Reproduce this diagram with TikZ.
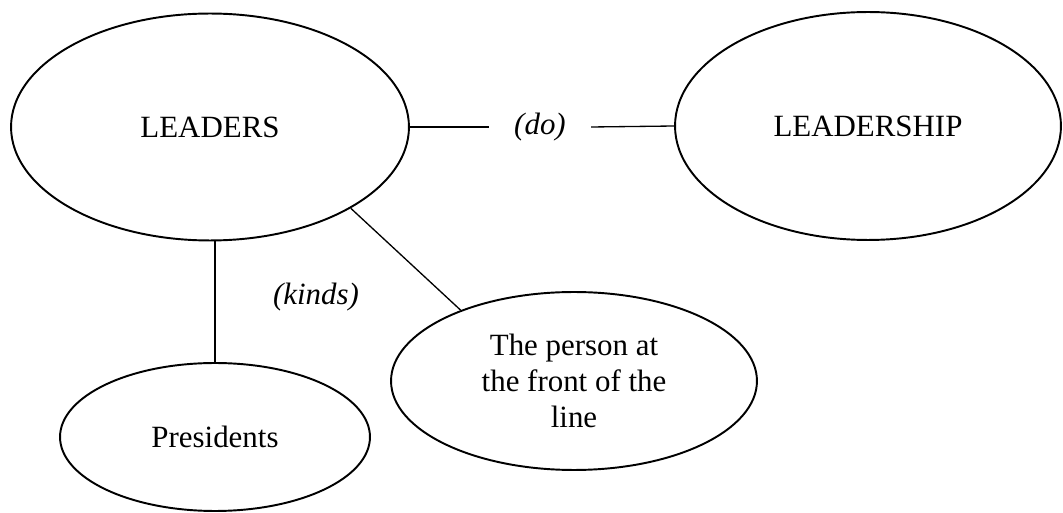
\documentclass[tikz,border=0pt]{standalone}
\usepackage{fontspec}
\setmainfont{Liberation Serif}
\usetikzlibrary{shapes.geometric}

\begin{document}
\begin{tikzpicture}[x=0.02cm, y=-0.02cm,
    bubble/.style={draw, ellipse, line width=1.1pt, inner sep=0pt, align=center},
    lbl/.style={font=\itshape, inner xsep=0.5cm},
    link/.style={line width=0.75pt}]
        \fontsize{17.6}{20.6}\selectfont
        \useasboundingbox (0, 0) rectangle (1063, 513);

        \node[bubble, minimum width=7.96cm, minimum height=4.54cm] (leaders) at (210, 127) {LEADERS};
        \node[bubble, minimum width=7.72cm, minimum height=4.56cm] (leadership) at (868, 126) {LEADERSHIP};
        \node[bubble, minimum width=6.2cm, minimum height=2.96cm] (presidents) at (215, 437) {Presidents};
        \node[bubble, minimum width=7.32cm, minimum height=3.56cm] (person) at (574, 381) {The person at\\the front of the\\line};

        \node[lbl] (do) at (540, 127) {(do)};
        \node[font=\itshape] (kinds) at (316, 297) {(kinds)};

        \draw[link] (leaders.east) -- (do.west);
        \draw[link] (do.east) -- (leadership.west);
        \draw[link] (presidents.north) -- (presidents.north |- leaders.south);
        \draw[link] (leaders.-30) -- (person.148);
    \end{tikzpicture}
\end{document}
